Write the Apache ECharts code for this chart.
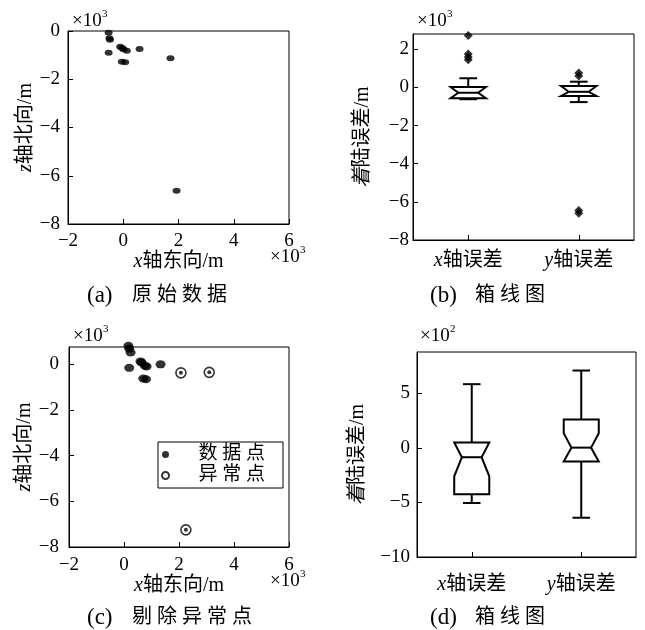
<!DOCTYPE html>
<html><head><meta charset="utf-8">
<script src="https://cdn.jsdelivr.net/npm/echarts@6/dist/echarts.min.js"></script>
<style>html,body{margin:0;padding:0;background:#fff}#c{width:645px;height:630px}</style>
</head><body><div id="c"></div>
<script>
// ---------- data (units: x10^3 m for a,b,c ; x10^2 m for d) ----------
const rawX_A = [-0.53, -0.5, -0.48, -0.53, -0.11, 0.01, 0.13, 0.59, 1.71, -0.05, 0.07, 1.93, -0.04];
const rawZ_A = [-0.07, -0.3, -0.36, -0.9, -0.65, -0.76, -0.82, -0.75, -1.13, -1.27, -1.3, -6.62, -0.7];
const cleanX_C = [0.16, 0.19, 0.24, 0.19, 0.6, 0.64, 0.76, 0.82, 1.33, 0.7, 0.8];
const cleanZ_C = [0.8, 0.68, 0.51, -0.16, 0.12, 0.07, -0.07, -0.1, -0.01, -0.63, -0.66];
const outX_C = [2.07, 3.1, 2.25];
const outZ_C = [-0.38, -0.36, -7.25];
const boxCats = ['x轴误差', 'y轴误差'];
// [low whisker, Q1, median, Q3, high whisker]
const boxStatsB = [[-0.62, -0.57, -0.28, 0.02, 0.48], [-0.77, -0.45, -0.23, 0.07, 0.3]];
const notchB = [[-0.57, 0.02], [-0.45, 0.07]];
const outliersB_x = [2.72, 1.75, 1.6, 1.45];
const outliersB_y = [0.75, 0.6, -6.45, -6.6];
const boxStatsD = [[-5.05, -4.25, -0.85, 0.5, 5.85], [-6.4, -1.25, 0.03, 2.6, 7.1]];
const notchD = [[-2.6, 0.5], [-1.25, 1.35]];
const xTickA = {min: -2, max: 6, interval: 2};
// -----------------------------------------------------------------------

const FONT = '"Liberation Serif", "Noto Sans CJK SC", serif';
const minus = v => (v < 0 ? '\u2212' + (-v) : String(v));
const italicRich = {i: {fontStyle: 'italic', fontFamily: FONT, fontSize: 20, color: '#000'}};
const firstItalic = s => '{i|' + s[0] + '}' + s.slice(1);
const axLine = {show: true, onZero: false, lineStyle: {color: '#000', width: 1}};

function valAxisX(gi, nameGap, margin) {
  return {type: 'value', gridIndex: gi, min: xTickA.min, max: xTickA.max, interval: xTickA.interval,
    axisLine: axLine,
    axisTick: {show: true, inside: true, length: 5, lineStyle: {color: '#000'}},
    splitLine: {show: false},
    axisLabel: {color: '#000', fontFamily: FONT, fontSize: 19, margin: margin, formatter: minus},
    name: firstItalic('x轴东向/m'), nameLocation: 'middle', nameGap: nameGap,
    nameTextStyle: {color: '#000', fontFamily: FONT, fontSize: 20, rich: italicRich}};
}
function valAxisY(gi, min, max, interval, name, nameGap, margin) {
  return {type: 'value', gridIndex: gi, min: min, max: max, interval: interval,
    axisLine: axLine,
    axisTick: {show: true, inside: true, length: 5, lineStyle: {color: '#000'}},
    splitLine: {show: false},
    axisLabel: {color: '#000', fontFamily: FONT, fontSize: 19, margin: margin, formatter: minus,
      showMaxLabel: max % interval === 0},
    name: firstItalic(name), nameLocation: 'middle', nameGap: nameGap,
    nameTextStyle: {color: '#000', fontFamily: FONT, fontSize: 20, rich: italicRich}};
}
function catAxisX(gi, margin) {
  return {type: 'category', gridIndex: gi, data: boxCats, boundaryGap: true,
    axisLine: axLine,
    axisTick: {show: true, inside: true, length: 5, alignWithLabel: true, interval: 0, lineStyle: {color: '#000'}},
    splitLine: {show: false},
    axisLabel: {color: '#000', fontFamily: FONT, fontSize: 20, margin: margin, interval: 0, hideOverlap: false,
      formatter: v => firstItalic(v), rich: {i: {fontStyle: 'italic', fontFamily: FONT, fontSize: 20, color: '#000'}}}};
}

function notchBox(params, api) {
  const i = api.value(0);
  const low = api.value(1), q1 = api.value(2), med = api.value(3), q3 = api.value(4), high = api.value(5);
  const nlo = api.value(6), nhi = api.value(7);
  const band = api.size([1, 0])[0];
  const hw = band * 0.16, cw = band * 0.08, ww = band * 0.09;
  const cx = api.coord([i, med])[0];
  const y = v => api.coord([i, v])[1];
  const st = {stroke: '#000', lineWidth: 2, fill: null};
  return {type: 'group', children: [
    {type: 'line', shape: {x1: cx, y1: y(q3), x2: cx, y2: y(high)}, style: st},
    {type: 'line', shape: {x1: cx - cw, y1: y(high), x2: cx + cw, y2: y(high)}, style: st},
    {type: 'line', shape: {x1: cx, y1: y(q1), x2: cx, y2: y(low)}, style: st},
    {type: 'line', shape: {x1: cx - cw, y1: y(low), x2: cx + cw, y2: y(low)}, style: st},
    {type: 'polygon', shape: {points: [
      [cx - hw, y(q3)], [cx + hw, y(q3)], [cx + hw, y(nhi)], [cx + ww, y(med)], [cx + hw, y(nlo)],
      [cx + hw, y(q1)], [cx - hw, y(q1)], [cx - hw, y(nlo)], [cx - ww, y(med)], [cx - hw, y(nhi)]]},
      style: {stroke: '#000', lineWidth: 2, fill: 'none', lineJoin: 'miter'}},
    {type: 'line', shape: {x1: cx - ww, y1: y(med), x2: cx + ww, y2: y(med)}, style: st}
  ]};
}

const zip = (a, b) => a.map((v, k) => [v, b[k]]);
const boxData = (stats, notch) => stats.map((s, k) => [k].concat(s, notch[k]));
const outB = outliersB_x.map(v => [0, v]).concat(outliersB_y.map(v => [1, v]));

function exp10(x, y, p) {
  return [
    {type: 'text', left: x, top: y, style: {text: '×10', font: '19px ' + FONT, fill: '#000'}},
    {type: 'text', left: x + 30, top: y - 3, style: {text: p, font: '11px ' + FONT, fill: '#000'}}
  ];
}
function caption(x, y, tag, t) {
  return [
    {type: 'text', left: x, top: y, style: {text: tag, font: '23px ' + FONT, fill: '#000'}},
    {type: 'text', left: x + 45, top: y + 2, style: {text: t, font: '20px ' + FONT, fill: '#000'}}
  ];
}

const grids = [
  {left: 68, top: 31, width: 221, height: 193},
  {left: 413, top: 34, width: 221, height: 206},
  {left: 69, top: 347, width: 220, height: 200},
  {left: 417, top: 352, width: 219, height: 205}
].map(g => Object.assign(g, {show: true, borderColor: '#000', borderWidth: 1, backgroundColor: 'transparent', containLabel: false, outerBoundsMode: 'none'}));

const option = {
  backgroundColor: '#fff',
  animation: false,
  grid: grids,
  xAxis: [valAxisX(0, 24, 8), catAxisX(1, 11), valAxisX(2, 26, 9), catAxisX(3, 18)],
  yAxis: [
    valAxisY(0, -8, 0, 2, 'z轴北向/m', 30, 8),
    valAxisY(1, -8, 2.8, 2, '着陆误差/m', 40, 4),
    valAxisY(2, -8, 0.75, 2, 'z轴北向/m', 31, 10),
    valAxisY(3, -10, 8.8, 5, '着陆误差/m', 49, 7)
  ],
  legend: {
    show: true, orient: 'vertical', left: 158, top: 442,
    data: ['数据点', '异常点'],
    formatter: n => n.split('').join(' '),
    backgroundColor: '#fff', borderColor: '#000', borderWidth: 1, borderRadius: 0,
    padding: [3, 18, 3, 3], itemGap: 2, itemWidth: 32, itemHeight: 7,
    textStyle: {color: '#000', fontFamily: FONT, fontSize: 19, padding: [0, 0, 0, 12]},
    selectedMode: false
  },
  series: [
    {type: 'scatter', xAxisIndex: 0, yAxisIndex: 0, data: zip(rawX_A, rawZ_A), symbol: 'circle',
      symbolSize: [8, 6], itemStyle: {color: '#000'}, clip: false},
    {type: 'custom', xAxisIndex: 1, yAxisIndex: 1, renderItem: notchBox,
      data: boxData(boxStatsB, notchB), encode: {x: 0, y: [1, 2, 3, 4, 5, 6, 7]}, z: 3},
    {type: 'scatter', xAxisIndex: 1, yAxisIndex: 1, data: outB, symbol: 'diamond', symbolSize: [9, 9],
      itemStyle: {color: '#000'}, clip: false},
    {type: 'scatter', name: '数据点', xAxisIndex: 2, yAxisIndex: 2, data: zip(cleanX_C, cleanZ_C), symbol: 'circle',
      symbolSize: [10, 8], itemStyle: {color: '#000'}, clip: false},
    {type: 'scatter', name: '异常点', xAxisIndex: 2, yAxisIndex: 2, data: zip(outX_C, outZ_C), symbol: 'circle',
      symbolSize: 10, itemStyle: {color: '#fff', borderColor: '#000', borderWidth: 1.6}, clip: false},
    {type: 'scatter', xAxisIndex: 2, yAxisIndex: 2, data: zip(outX_C, outZ_C), symbol: 'circle',
      symbolSize: 4, itemStyle: {color: '#000'}, clip: false, z: 3},
    {type: 'custom', xAxisIndex: 3, yAxisIndex: 3, renderItem: notchBox,
      data: boxData(boxStatsD, notchD), encode: {x: 0, y: [1, 2, 3, 4, 5, 6, 7]}, z: 3}
  ],
  graphic: [].concat(
    exp10(72, 12, '3'), exp10(270, 248, '3'),
    exp10(417, 12, '3'),
    exp10(73, 327, '3'), exp10(270, 572, '3'),
    exp10(420, 327, '2'),
    caption(87, 284, '(a)', '原 始 数 据'), caption(430, 284, '(b)', '箱 线 图'),
    caption(87, 606, '(c)', '剔 除 异 常 点'), caption(430, 606, '(d)', '箱 线 图')
  )
};
const chart = echarts.init(document.getElementById('c'), null, {renderer: 'canvas'});
chart.setOption(option);
</script>
</body></html>
